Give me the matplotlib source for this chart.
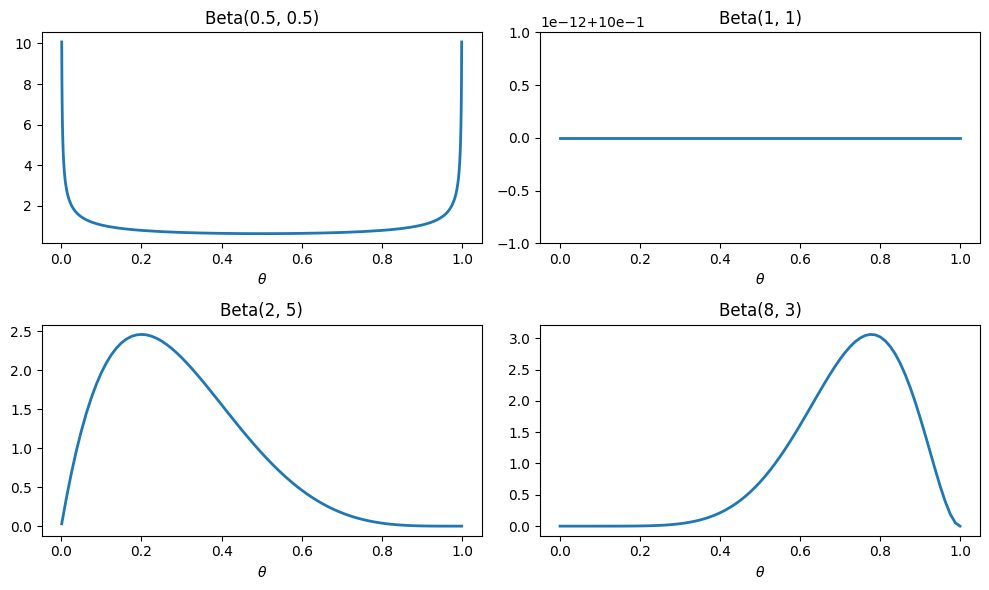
import matplotlib
matplotlib.use("Agg")
import matplotlib.pyplot as plt

# Beta(0.5, 0.5)
theta_a = [0.001, 0.0015, 0.002, 0.0025, 0.003, 0.004, 0.005, 0.006, 0.0075, 0.009,
           0.01, 0.0125, 0.015, 0.0175, 0.02, 0.025, 0.03, 0.035, 0.04, 0.045,
           0.05, 0.06, 0.07, 0.08, 0.09, 0.1, 0.115, 0.13, 0.15, 0.175,
           0.2, 0.25, 0.3, 0.35, 0.4, 0.45, 0.5,
           0.55, 0.6, 0.65, 0.7, 0.75, 0.8, 0.825, 0.85, 0.87, 0.885,
           0.9, 0.91, 0.92, 0.93, 0.94, 0.95, 0.955, 0.96, 0.965, 0.97,
           0.975, 0.98, 0.9825, 0.985, 0.9875, 0.99, 0.991, 0.9925, 0.994, 0.995,
           0.996, 0.997, 0.9975, 0.998, 0.9985, 0.999]
dens_a = [10.0709, 8.2249, 7.1248, 6.3742, 5.8203, 5.0430, 4.5129, 4.1217, 3.6894, 3.3705,
          3.1991, 2.8650, 2.6187, 2.4275, 2.2736, 2.0388, 1.8660, 1.7320, 1.6244, 1.5355,
          1.4605, 1.3403, 1.2476, 1.1733, 1.1123, 1.0610, 0.9978, 0.9465, 0.8914, 0.8377,
          0.7958, 0.7351, 0.6946, 0.6674, 0.6497, 0.6398, 0.6366,
          0.6398, 0.6497, 0.6674, 0.6946, 0.7351, 0.7958, 0.8377, 0.8914, 0.9465, 0.9978,
          1.0610, 1.1123, 1.1733, 1.2476, 1.3403, 1.4605, 1.5355, 1.6244, 1.7320, 1.8660,
          2.0388, 2.2736, 2.4275, 2.6187, 2.8650, 3.1991, 3.3705, 3.6894, 4.1217, 4.5129,
          5.0430, 5.8203, 6.3742, 7.1248, 8.2249, 10.0709]

# Beta(1, 1)
theta_b = [0.001, 0.999]
dens_b = [1.0, 1.0]
yticks_b = [-1.0, -0.5, 0.0, 0.5, 1.0]
yticklabels_b = ["\u22121.0", "\u22120.5", "0.0", "0.5", "1.0"]
offset_b = "1e\u221212+10e\u22121"

# common grid for Beta(2, 5) and Beta(8, 3)
theta_c = [0.001, 0.0125, 0.025, 0.0375, 0.05, 0.0625, 0.075, 0.0875, 0.1, 0.1125,
           0.125, 0.1375, 0.15, 0.1625, 0.175, 0.1875, 0.2, 0.2125, 0.225, 0.2375,
           0.25, 0.2625, 0.275, 0.2875, 0.3, 0.3125, 0.325, 0.3375, 0.35, 0.3625,
           0.375, 0.3875, 0.4, 0.4125, 0.425, 0.4375, 0.45, 0.4625, 0.475, 0.4875,
           0.5, 0.5125, 0.525, 0.5375, 0.55, 0.5625, 0.575, 0.5875, 0.6, 0.6125,
           0.625, 0.6375, 0.65, 0.6625, 0.675, 0.6875, 0.7, 0.7125, 0.725, 0.7375,
           0.75, 0.7625, 0.775, 0.7875, 0.8, 0.8125, 0.825, 0.8375, 0.85, 0.8625,
           0.875, 0.8875, 0.9, 0.9125, 0.925, 0.9375, 0.95, 0.9625, 0.975, 0.9875, 0.999]
# Beta(2, 5)
dens_c = [0.0299, 0.3566, 0.6778, 0.9655, 1.2218, 1.4484, 1.6472, 1.8200, 1.9683, 2.0939,
          2.1982, 2.2828, 2.3490, 2.3984, 2.4321, 2.4514, 2.4576, 2.4518, 2.4351, 2.4085,
          2.3730, 2.3297, 2.2793, 2.2228, 2.1609, 2.0944, 2.0240, 1.9505, 1.8743, 1.7962,
          1.7166, 1.6361, 1.5552, 1.4743, 1.3937, 1.3140, 1.2353, 1.1581, 1.0826, 1.0090,
          0.9375, 0.8684, 0.8018, 0.7378, 0.6766, 0.6182, 0.5628, 0.5103, 0.4608, 0.4143,
          0.3708, 0.3302, 0.2926, 0.2579, 0.2259, 0.1967, 0.1701, 0.1460, 0.1244, 0.1051,
          0.0879, 0.0728, 0.0596, 0.0482, 0.0384, 0.0301, 0.0232, 0.0175, 0.0129, 0.0092,
          0.0064, 0.0043, 0.0027, 0.0016, 0.0009, 0.0004, 0.0002, 0.0001, 0.0000, 0.0000, 0.0000]
# Beta(8, 3)
dens_d = [0.0000, 0.0000, 0.0000, 0.0000, 0.0000, 0.0000, 0.0000, 0.0000, 0.0000, 0.0001,
          0.0001, 0.0002, 0.0004, 0.0008, 0.0012, 0.0019, 0.0029, 0.0044, 0.0063, 0.0089,
          0.0124, 0.0168, 0.0225, 0.0297, 0.0386, 0.0495, 0.0628, 0.0788, 0.0979, 0.1203,
          0.1466, 0.1772, 0.2123, 0.2525, 0.2981, 0.3495, 0.4069, 0.4708, 0.5413, 0.6187,
          0.7031, 0.7945, 0.8929, 0.9981, 1.1099, 1.2278, 1.3513, 1.4798, 1.6124, 1.7482,
          1.8859, 2.0243, 2.1619, 2.2969, 2.4277, 2.5522, 2.6683, 2.7738, 2.8664, 2.9437,
          3.0034, 3.0430, 3.0604, 3.0533, 3.0199, 2.9585, 2.8678, 2.7473, 2.5967, 2.4167,
          2.2089, 1.9760, 1.7219, 1.4519, 1.1733, 0.8951, 0.6285, 0.3874, 0.1885, 0.0515, 0.0004]

titles = ["Beta(0.5, 0.5)", "Beta(1, 1)", "Beta(2, 5)", "Beta(8, 3)"]

fig, axes = plt.subplots(2, 2, figsize=(10, 6), dpi=100)
axs = axes.ravel()
series = [(theta_a, dens_a), (theta_b, dens_b), (theta_c, dens_c), (theta_c, dens_d)]
for ax, (x, y), t in zip(axs, series, titles):
    ax.plot(x, y, color="C0", lw=2)
    ax.set_title(t)
    ax.set_xlabel(r"$\theta$")

ax = axs[1]
ax.set_ylim(1 - 1e-12, 1 + 1e-12)
ax.set_yticks([1 + v * 1e-12 for v in yticks_b])
ax.set_yticklabels(yticklabels_b)
ax.text(0.0, 1.01, offset_b, transform=ax.transAxes, ha="left", va="bottom", fontsize=10)

fig.tight_layout()
fig.savefig("out.png", dpi=100, bbox_inches="tight")
